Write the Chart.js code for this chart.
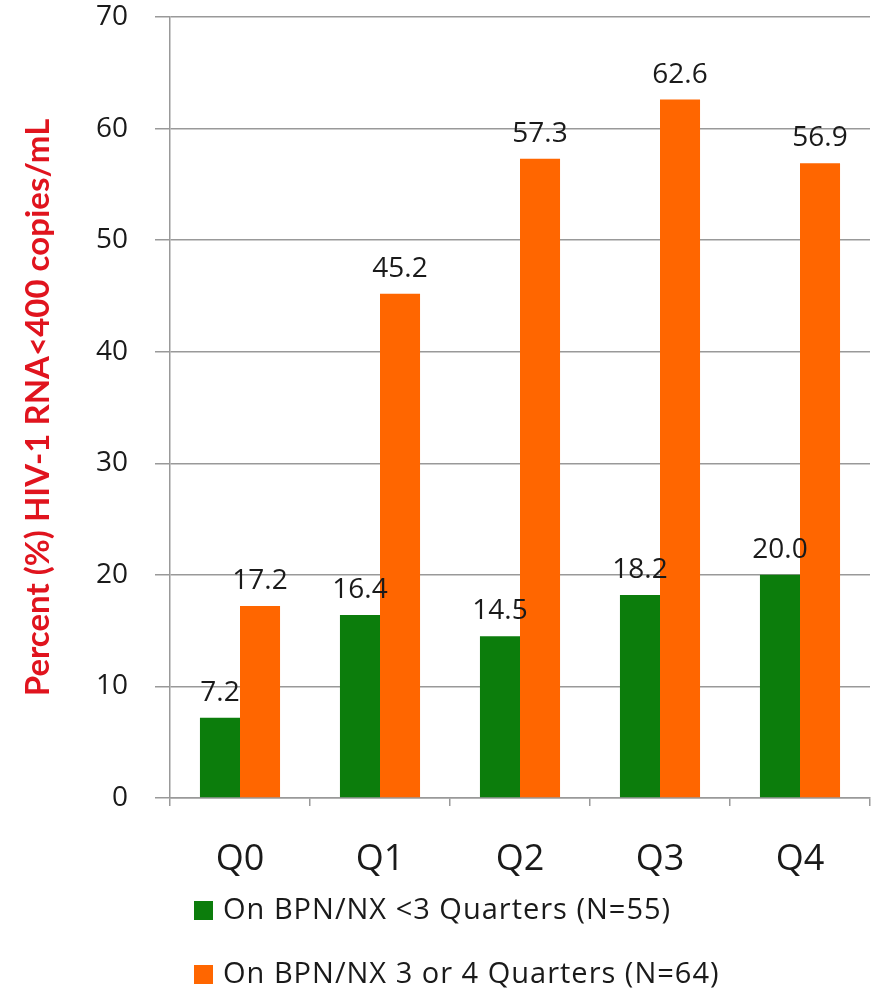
<!DOCTYPE html>
<html><head><meta charset="utf-8">
<script src="https://cdn.jsdelivr.net/npm/chart.js@4/dist/chart.umd.min.js"></script>
<style>html,body{margin:0;padding:0;background:#fff;}#wrap{width:878px;height:990px;}</style>
</head><body><div id="wrap"><canvas id="c" width="878" height="990"></canvas></div>
<script>
const categories = ["Q0","Q1","Q2","Q3","Q4"];
const seriesLess3 = [7.2,16.4,14.5,18.2,20.0];
const series3or4 = [17.2,45.2,57.3,62.6,56.9];
const seriesNames = ["On BPN/NX <3 Quarters (N=55)","On BPN/NX 3 or 4 Quarters (N=64)"];
const yTitle = "Percent (%) HIV-1 RNA<400 copies/mL";
const yTicks = [0,10,20,30,40,50,60,70];

const GREEN = "#0c7d0c", ORANGE = "#ff6600";

const labelPlugin = {
  id: "labels",
  afterDatasetsDraw(chart) {
    const ctx = chart.ctx;
    ctx.save();
    ctx.font = "28px 'Open Sans'";
    ctx.fillStyle = "#1a1a1a";
    ctx.textAlign = "center";
    ctx.textBaseline = "middle";
    chart.data.datasets.forEach((ds, di) => {
      chart.getDatasetMeta(di).data.forEach((bar, i) => {
        ctx.fillText(ds.data[i].toFixed(1), bar.x, bar.y - 25);
      });
    });
    ctx.restore();
  }
};

const legendPlugin = {
  id: "vlegend",
  afterDraw(chart) {
    const ctx = chart.ctx;
    ctx.save();
    ctx.font = "29px 'Open Sans'";
    ctx.letterSpacing = "1px";
    ctx.textBaseline = "middle";
    ctx.textAlign = "left";
    const x0 = 194, ys = [911, 975];
    chart.data.datasets.forEach((ds, i) => {
      ctx.fillStyle = ds.backgroundColor;
      ctx.fillRect(x0, ys[i] - 10, 19, 19);
      ctx.fillStyle = "#1a1a1a";
      ctx.fillText(ds.label, x0 + 29, ys[i]);
    });
    ctx.restore();
  }
};

new Chart(document.getElementById("c"), {
  type: "bar",
  data: {
    labels: categories,
    datasets: [
      { label: seriesNames[0], data: seriesLess3, backgroundColor: GREEN, categoryPercentage: 0.572, barPercentage: 1 },
      { label: seriesNames[1], data: series3or4, backgroundColor: ORANGE, categoryPercentage: 0.572, barPercentage: 1 }
    ]
  },
  options: {
    responsive: false,
    animation: false,
    layout: { padding: { left: 0, right: 8, top: 17, bottom: 92 } },
    plugins: { legend: { display: false }, tooltip: { enabled: false } },
    scales: {
      x: {
        afterFit(s) { s.height = 100; s.paddingLeft = 0; s.paddingRight = 0; },
        grid: { display: true, drawOnChartArea: false, tickLength: 8, color: "#999", lineWidth: 1.5 },
        border: { color: "#999", width: 1.5 },
        ticks: { color: "#1a1a1a", font: { family: "Open Sans", size: 36 }, padding: 32 }
      },
      y: {
        min: 0, max: 70,
        afterFit(s) { s.width = 170; s.paddingTop = 0; s.paddingBottom = 0; },
        afterBuildTicks(s) { s.ticks = yTicks.map(v => ({ value: v })); },
        grid: { color: "#999", lineWidth: 1.5, tickLength: 15 },
        border: { color: "#999", width: 1.5 },
        ticks: { color: "#1a1a1a", font: { family: "Open Sans", size: 28 }, padding: 27 },
        title: { display: true, text: yTitle, color: "#e0141e", font: { family: "Lato", size: 33, weight: "bold" }, padding: { top: 19, bottom: 0 } }
      }
    }
  },
  plugins: [labelPlugin, legendPlugin]
});
</script></body></html>
